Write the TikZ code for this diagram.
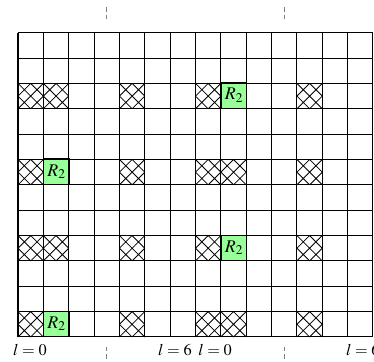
\documentclass[tikz,border=0pt]{standalone}
\usepackage{mathptmx}
\usepackage{tikz}

\tikzset{
    xcell/.pic={
        \draw[line width=0.55pt] (0,0.5) -- (0.5,0) (0,1) -- (1,0) (0.5,1) -- (1,0.5)
            (0,0.5) -- (0.5,1) (0,0) -- (1,1) (0.5,0) -- (1,0.5);
    }
}

\begin{document}
\begin{tikzpicture}[
    x=0.6cm, y=0.6cm,
    font=\fontsize{11}{13}\selectfont,
    gridline/.style={line width=0.7pt, black, step=0.6cm},
    regcell/.style={rectangle, draw=black, line width=0.7pt, fill=green!40, minimum size=0.6cm, inner sep=0pt, anchor=south west, font=\fontsize{12}{14}\selectfont},
    tickline/.style={gray, densely dashed, line width=0.5pt},
    lab/.style={inner sep=0pt}
]
\useasboundingbox (-0.71,-0.95) rectangle (14.04,13.29);

% hatched cells, rows A (y=9, y=3) and rows B (y=6, y=0)
\foreach \row in {9,3} {
    \foreach \col in {0,1,4,7,11}
        \pic at (\col,\row) {xcell};
}
\foreach \row in {6,0} {
    \foreach \col in {0,4,7,8,11}
        \pic at (\col,\row) {xcell};
}

% R_2 cells
\node[regcell] (rA) at (8,9) {$R_2$};
\node[regcell] (rB) at (1,6) {$R_2$};
\node[regcell] (rC) at (8,3) {$R_2$};
\node[regcell] (rD) at (1,0) {$R_2$};

% the grid
\draw[gridline] (0,0) grid (14,12);

% period marks
\foreach \x in {3.5,10.5} {
    \draw[tickline] (\x,12.54) -- (\x,13.0);
    \draw[tickline] (\x,-0.39) -- (\x,-0.87);
}

% labels
\node[lab] (l0a) at (0.47,-0.51) {$l=0$};
\node[lab] (l6a) at (6.19,-0.51) {$l=6$};
\node[lab] (l0b) at (7.77,-0.51) {$l=0$};
\node[lab] (l6b) at (13.6,-0.51) {$l=6$};
\end{tikzpicture}
\end{document}
